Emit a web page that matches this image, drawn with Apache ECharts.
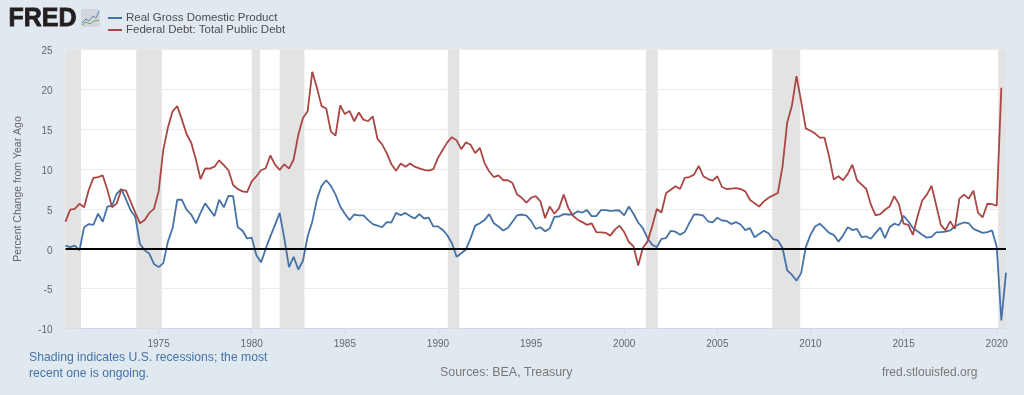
<!DOCTYPE html>
<html>
<head>
<meta charset="utf-8">
<title>FRED</title>
<script src="https://cdn.jsdelivr.net/npm/echarts@6/dist/echarts.min.js"></script>
<style>
html, body { margin: 0; padding: 0; background: #e1e9f0; }
#chart { width: 1024px; height: 395px; }
</style>
</head>
<body>
<div id="chart"></div>
<script>
var firstYear = 1970;
var gdpName = 'Real Gross Domestic Product';
var debtName = 'Federal Debt: Total Public Debt';

// percent change from year ago, one value per quarter from 1970 Q1
var gdpChange = [
	0.4,0.2,0.4,-0.2, 2.7,3.1,3.0,4.4, 3.4,5.3,5.4,6.9, 7.5,6.2,4.8,4.0, 0.6,-0.2,-0.6,-1.9,
	-2.3,-1.8,0.9,2.6, 6.15,6.15,4.9,4.3, 3.2,4.5,5.7,4.9, 4.1,6.15,5.2,6.65, 6.6,2.7,2.3,1.3,
	1.4,-0.8,-1.7,0, 1.55,3.0,4.5,1.3, -2.3,-1.0,-2.6,-1.5, 1.55,3.4,6.2,7.9, 8.6,7.9,6.8,5.3,
	4.4,3.6,4.3,4.2, 4.2,3.6,3.1,2.9, 2.7,3.35,3.3,4.5, 4.2,4.5,4.1,3.8, 4.35,3.8,3.9,2.8,
	2.8,2.4,1.7,0.7, -1.0,-0.55,-0.1,1.3, 2.9,3.2,3.6,4.35, 3.2,2.8,2.3,2.6, 3.4,4.2,4.3,4.15,
	3.5,2.5,2.7,2.2, 2.55,4.0,4.05,4.35, 4.3,4.3,4.7,4.55, 4.85,4.1,4.1,4.85, 4.85,4.75,4.8,4.8,
	4.2,5.3,4.4,3.3, 2.6,1.35,0.5,0.2, 1.25,1.35,2.25,2.15, 1.75,2.1,3.25,4.3, 4.3,4.15,3.45,3.3,
	3.9,3.55,3.5,3.1, 3.35,3.05,2.35,2.6, 1.45,1.85,2.25,1.95, 1.2,1.05,0.1,-2.7, -3.25,-4.0,-3.05,0.2,
	1.75,2.8,3.15,2.6, 2.0,1.75,0.9,1.65, 2.7,2.35,2.5,1.45, 1.55,1.25,2.0,2.65, 1.35,2.7,3.15,2.95,
	4.15,3.45,2.6,2.2, 1.75,1.4,1.5,2.05, 2.1,2.15,2.3,2.8, 3.1,3.3,3.2,2.5, 2.25,2.0,2.1,2.3,
	0.3,-9.0,-3.0
];
var debtChange = [
	3.4,4.9,5.0,5.65, 5.2,7.4,8.9,9.0, 9.2,7.4,5.2,5.7, 7.4,7.3,5.9,4.5, 3.2,3.6,4.5,5.0,
	7.2,12.4,15.2,17.25, 17.9,16.2,14.4,13.3, 11.2,8.75,10.1,10.05, 10.3,11.1,10.5,9.85, 8.0,7.5,7.2,7.1,
	8.45,9.1,9.85,10.1, 11.7,10.55,9.9,10.6, 10.05,11.2,14.3,16.4, 17.25,22.2,20.2,17.9, 17.6,14.7,14.2,18.0,
	16.9,17.3,16.0,17.1, 16.2,16.0,16.6,13.8, 13.1,12.0,10.6,9.8, 10.7,10.3,10.7,10.3, 10.1,9.9,9.8,10.0,
	11.4,12.4,13.35,14.0, 13.6,12.5,13.35,13.05, 12.0,12.65,10.75,9.7, 9.0,9.2,8.6,8.6, 8.25,6.8,6.4,5.8,
	6.4,6.6,5.95,3.85, 5.3,4.4,5.1,6.8, 5.1,4.15,3.65,3.35, 3.0,3.2,2.1,2.05, 2.0,1.65,2.4,2.9,
	2.1,0.85,0.3,-2.1, 0.1,0.9,2.8,5.0, 4.55,7.0,7.4,7.85, 7.5,8.9,9.0,9.3, 10.4,9.1,8.75,8.55,
	9.1,7.75,7.5,7.55, 7.6,7.5,7.2,6.15, 5.7,5.3,5.95,6.4, 6.7,7.0,10.3,15.8, 17.9,21.65,18.5,15.1,
	14.8,14.45,13.95,13.95, 11.6,8.7,9.1,8.6, 9.4,10.55,8.6,8.05, 7.5,5.5,4.2,4.35, 4.9,5.3,6.6,5.6,
	3.15,3.0,1.75,4.05, 6.05,6.8,7.9,5.5, 3.0,2.3,3.45,2.5, 6.3,6.8,6.3,7.3, 4.5,3.95,5.65,5.6,
	5.4,20.2,null
];
var recessionStart = [1970, 1973.8, 1980, 1981.5, 1990.53, 2001.17, 2007.95, 2020.08];
var recessionEnd = [1970.83, 1975.17, 1980.45, 1982.83, 1991.15, 2001.8, 2009.45, 2020.5];
var xLabels = [1975, 1980, 1985, 1990, 1995, 2000, 2005, 2010, 2015, 2020];

function withDates(values){
	return values.map(function(v, i){ return [firstYear + i / 4, v]; });
}

var chart = echarts.init(document.getElementById('chart'));
chart.setOption({
	animation: false,
	backgroundColor: '#e1e9f0',
	textStyle: { fontFamily: '"Liberation Sans", Arial, sans-serif' },
	legend: {
		orient: 'vertical',
		left: 103,
		top: 7,
		itemWidth: 14,
		itemHeight: 2,
		itemGap: 0,
		icon: 'rect',
		selectedMode: false,
		textStyle: { color: '#4d4d4d', fontSize: 11.5, padding: [0, 0, 0, -1] },
		data: [gdpName, debtName]
	},
	grid: {
		show: true,
		left: 65.5,
		right: 18,
		top: 49.5,
		bottom: 66.5,
		backgroundColor: '#fff',
		borderWidth: 0
	},
	xAxis: {
		type: 'value',
		min: firstYear,
		max: 2020.5,
		splitLine: { show: false },
		axisLine: { onZero: false, lineStyle: { color: '#ccd6eb' } },
		axisTick: { customValues: xLabels, length: 5, lineStyle: { color: '#ccd6eb' } },
		axisLabel: {
			customValues: xLabels,
			color: '#666',
			fontSize: 10,
			margin: 11,
			formatter: function(v){ return String(v); }
		}
	},
	yAxis: {
		type: 'value',
		min: -10,
		max: 25,
		interval: 5,
		name: 'Percent Change from Year Ago',
		nameLocation: 'middle',
		nameGap: 42,
		nameTextStyle: { color: '#666', fontSize: 10.5 },
		axisLine: { show: false },
		axisTick: { show: false },
		axisLabel: {
			margin: 13,
			formatter: '{lab|{value}}',
			rich: { lab: { color: '#666', fontSize: 10, padding: [4, 0, 0, 0] } }
		},
		splitLine: { lineStyle: { color: '#ececec', width: 1 } }
	},
	series: [
		{
			name: gdpName,
			type: 'line',
			symbol: 'none',
			color: '#4572a7',
			lineStyle: { width: 1.8 },
			data: withDates(gdpChange),
			markArea: {
				silent: true,
				itemStyle: { color: '#e3e3e3' },
				data: recessionStart.map(function(s, i){ return [{ xAxis: s }, { xAxis: recessionEnd[i] }]; })
			}
		},
		{
			name: debtName,
			type: 'line',
			symbol: 'none',
			color: '#aa4643',
			lineStyle: { width: 1.8 },
			data: withDates(debtChange),
			markLine: {
				silent: true,
				symbol: 'none',
				label: { show: false },
				lineStyle: { color: '#000', width: 2, type: 'solid' },
				data: [{ yAxis: 0 }]
			}
		}
	],
	graphic: [
		{ type: 'text', left: 8, top: 6, style: { text: 'FRED', fill: '#231f20', stroke: '#231f20', lineWidth: 0.8, font: 'bold 25px "Liberation Sans", Arial, sans-serif' } },
		{ type: 'rect', left: 81, top: 9, shape: { width: 19, height: 18, r: 2 }, style: { fill: '#d0d6db' } },
		{ type: 'polyline', shape: { points: [[82, 23], [86, 19], [89, 21], [93, 16], [96, 18], [99, 11]] }, style: { stroke: '#5f88ad', lineWidth: 1, fill: null } },
		{ type: 'polyline', shape: { points: [[82, 25], [86, 22], [90, 24], [94, 21], [99, 20]] }, style: { stroke: '#7fa05f', lineWidth: 1, fill: null } },
		{ type: 'text', left: 29, top: 352, style: { text: 'Shading indicates U.S. recessions; the most', fill: '#4572a7', font: '12.2px "Liberation Sans", Arial, sans-serif' } },
		{ type: 'text', left: 29, top: 368, style: { text: 'recent one is ongoing.', fill: '#4572a7', font: '12.2px "Liberation Sans", Arial, sans-serif' } },
		{ type: 'text', left: 440, top: 367, style: { text: 'Sources: BEA, Treasury', fill: '#777', font: '12.4px "Liberation Sans", Arial, sans-serif' } },
		{ type: 'text', left: 882, top: 367, style: { text: 'fred.stlouisfed.org', fill: '#777', font: '12px "Liberation Sans", Arial, sans-serif' } }
	]
});
</script>
</body>
</html>
